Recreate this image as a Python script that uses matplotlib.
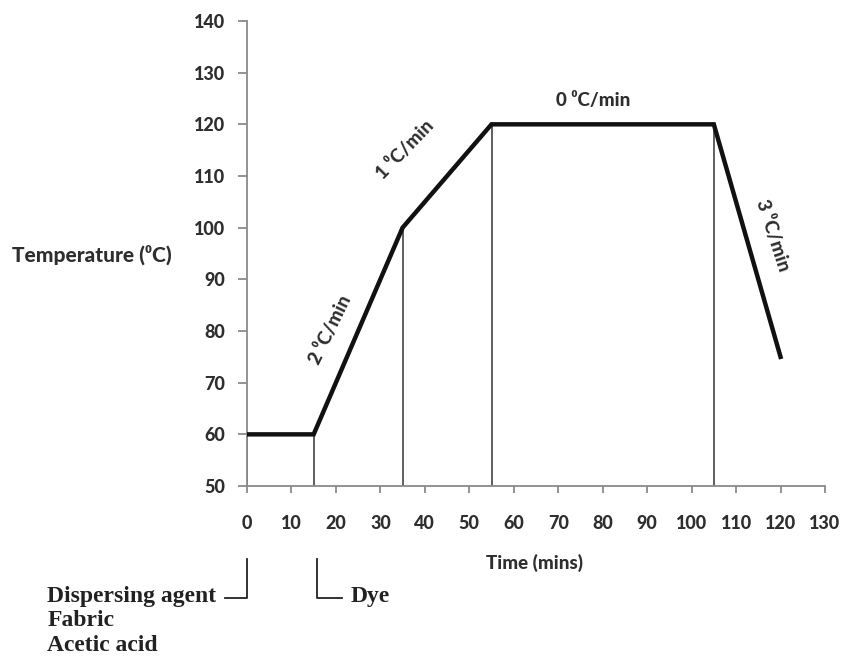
import matplotlib.pyplot as plt
from matplotlib.transforms import blended_transform_factory

# dyeing profile
time_pts = [0, 15, 35, 55, 105, 120]
temp_pts = [60, 60, 100, 120, 120, 75]
marker_times = [0, 15, 35, 55, 105]
marker_temps = [60, 60, 100, 120, 120]

x_ticks = list(range(0, 131, 10))
y_ticks = list(range(50, 141, 10))

rate_labels = ['2 \u2070C/min', '1 \u2070C/min', '0 \u2070C/min', '3 \u2070C/min']
rate_pos = [(18.7, 80.2), (35.5, 115.0), (77.8, 124.7), (118.3, 98.6)]
rate_rot = [64, 46, 0, -72]

sans = ['Lato', 'DejaVu Sans']
heavy = 900
txt_col = '#2e2e2e'
axis_col = '#8a8a8a'

fig = plt.figure(figsize=(8.42, 6.56), dpi=100)
ax = fig.add_axes([0.2933, 0.2591, 0.6865, 0.7089])

for t, v in zip(marker_times, marker_temps):
    ax.plot([t, t], [50, v], color='#444444', lw=1.2, zorder=2)
ax.plot(time_pts, temp_pts, color='#111111', lw=3.2, solid_joinstyle='miter', zorder=3)

ax.set_xlim(0, 130)
ax.set_ylim(50, 140)
ax.set_xticks(x_ticks)
ax.set_yticks(y_ticks)
for s in ['top', 'right']:
    ax.spines[s].set_visible(False)
for s in ['left', 'bottom']:
    ax.spines[s].set_color(axis_col)
    ax.spines[s].set_linewidth(1.3)
ax.tick_params(axis='y', length=6.5, width=1.3, color=axis_col, pad=9)
ax.tick_params(axis='x', length=5, width=1.3, color=axis_col, pad=16)
for lab in ax.get_xticklabels() + ax.get_yticklabels():
    lab.set_family(sans)
    lab.set_fontweight(heavy)
    lab.set_fontsize(13)
    lab.set_color(txt_col)

for lab, (x, y), r in zip(rate_labels, rate_pos, rate_rot):
    ax.text(x, y, lab, rotation=r, ha='center', va='center', family=sans,
            fontweight=heavy, fontsize=13.5, color=txt_col, rotation_mode='anchor')

fig.text(0.014, 0.611, 'Temperature (\u2070C)', family=sans, fontweight=heavy,
         fontsize=15, color=txt_col, ha='left', va='center')
fig.text(0.635, 0.142, 'Time (mins)', family=sans, fontweight=heavy,
         fontsize=13.5, color=txt_col, ha='center', va='center')

# additions below the axis
tr = blended_transform_factory(ax.transData, ax.transAxes)
ax.plot([0, 0, -4.9], [-0.157, -0.241, -0.241], color='#222222', lw=1.3,
        transform=tr, clip_on=False)
ax.plot([15.7, 15.7, 21.3], [-0.157, -0.241, -0.241], color='#222222', lw=1.3,
        transform=tr, clip_on=False)

serif = 'Liberation Serif'
fig.text(0.056, 0.091, 'Dispersing agent', family=serif, fontweight='bold',
         fontsize=17, color='#222222', ha='left', va='center')
fig.text(0.056, 0.054, 'Fabric', family=serif, fontweight='bold',
         fontsize=17, color='#222222', ha='left', va='center')
fig.text(0.056, 0.016, 'Acetic acid', family=serif, fontweight='bold',
         fontsize=17, color='#222222', ha='left', va='center')
fig.text(0.416, 0.091, 'Dye', family=serif, fontweight='bold',
         fontsize=17, color='#222222', ha='left', va='center')

fig.savefig('out.png', dpi=100)
